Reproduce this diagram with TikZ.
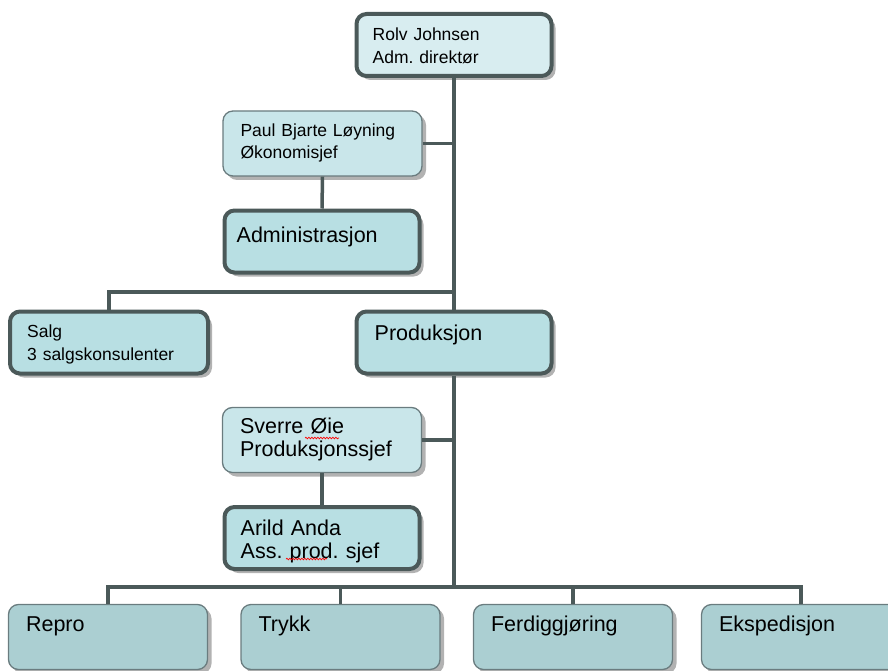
\documentclass[tikz,border=0pt]{standalone}
\usepackage{fontspec}
\setmainfont{Liberation Sans}
\frenchspacing
\usetikzlibrary{positioning, calc, shadows, decorations.pathmorphing}
\definecolor{cline}{HTML}{4B5959}
\definecolor{cedge}{HTML}{6A7C7F}
\definecolor{ctop}{HTML}{D8EDF0}
\definecolor{cmid}{HTML}{C9E6EA}
\definecolor{cdept}{HTML}{B8DFE3}
\definecolor{cunit}{HTML}{ABCFD2}
\tikzset{
  every picture/.style={x=1pt, y=-1pt},
  orgbox/.style={fill=#1, rounded corners=10pt, inner sep=0pt,
    drop shadow={shadow xshift=4pt, shadow yshift=-4pt, fill=black, opacity=.3}},
  heavy/.style={orgbox=#1, draw=cline, line width=4pt, minimum width=195pt, minimum height=62pt},
  light/.style={orgbox=#1, draw=cedge, line width=1.3pt, minimum width=199pt, minimum height=65pt},
  link/.style={draw=cline, line width=3.5pt},
  txt/.style={anchor=base west, inner sep=0pt, align=left, text width=180pt,
    font=\fontsize{17.5}{22.5}\selectfont},
  bigtxt/.style={txt, font=\fontsize{21.5}{23}\selectfont},
  typo/.style={draw=red, line width=.7pt, decorate,
    decoration={snake, amplitude=.8pt, segment length=3pt}},
}
\begin{document}
\begin{tikzpicture}
  \useasboundingbox (0,0) rectangle (888,671);
  \clip (0,0) rectangle (888,671);
  % boxes
  \node[heavy=ctop] (rolv) at (454,45) {};
  \node[light=cmid] (paul) at (322.5,143.5) {};
  \node[heavy=cdept] (admin) at (322,241.5) {};
  \node[heavy=cdept, minimum width=198pt] (salg) at (109,342.5) {};
  \node[heavy=cdept] (prod) at (454,342.5) {};
  \node[light=cmid] (sverre) at (322,440) {};
  \node[heavy=cdept] (arild) at (322,538) {};
  \node[light=cunit] (repro) at (108,637) {};
  \node[light=cunit] (trykk) at (340.5,637) {};
  \node[light=cunit] (ferdig) at (573,637) {};
  \node[light=cunit] (eksp) at (801,637) {};
  % lines
  \coordinate (split) at (454,292);
  \coordinate (bus) at (454,587);
  \draw[link] (rolv.south) -- (prod.north);
  \draw[link] (paul.east) -- (paul.east -| rolv.south);
  \draw[link] (paul.south) -- (admin.north);
  \draw[link] (salg.north) |- (split);
  \draw[link] (prod.south) -- (bus);
  \draw[link] (sverre.east) -- (sverre.east -| prod.south);
  \draw[link] (sverre.south) -- (arild.north);
  \foreach \u in {repro,trykk,ferdig,eksp}
    \draw[link] (\u.north) |- (bus);
  % texts
  \node[txt] (rolv-t) at ($(rolv.north west)+(18,29)$) {Rolv Johnsen\\Adm. direktør};
  \node[txt] (paul-t) at ($(paul.north west)+(18,26)$) {Paul Bjarte Løyning\\Økonomisjef};
  \node[bigtxt] (admin-t) at ($(admin.north west)+(14,34)$) {Administrasjon};
  \node[txt] (salg-t) at ($(salg.north west)+(19,28)$) {Salg\\3 salgskonsulenter};
  \node[bigtxt] (prod-t) at ($(prod.north west)+(20,31)$) {Produksjon};
  \node[bigtxt] (sverre-t) at ($(sverre.north west)+(18,27)$) {Sverre Øie\\Produksjonssjef};
  \node[bigtxt] (arild-t) at ($(arild.north west)+(18,30)$) {Arild Anda\\Ass. prod. sjef};
  \foreach \u/\t in {repro/Repro,trykk/Trykk,ferdig/Ferdiggjøring,eksp/Ekspedisjon}
    \node[bigtxt] (\u-t) at ($(\u.north west)+(18,28)$) {\t};
  % spelling marks
  \draw[typo] (305,438) -- (339,438);
  \draw[typo] (286,559) -- (327,559);
\end{tikzpicture}
\end{document}
